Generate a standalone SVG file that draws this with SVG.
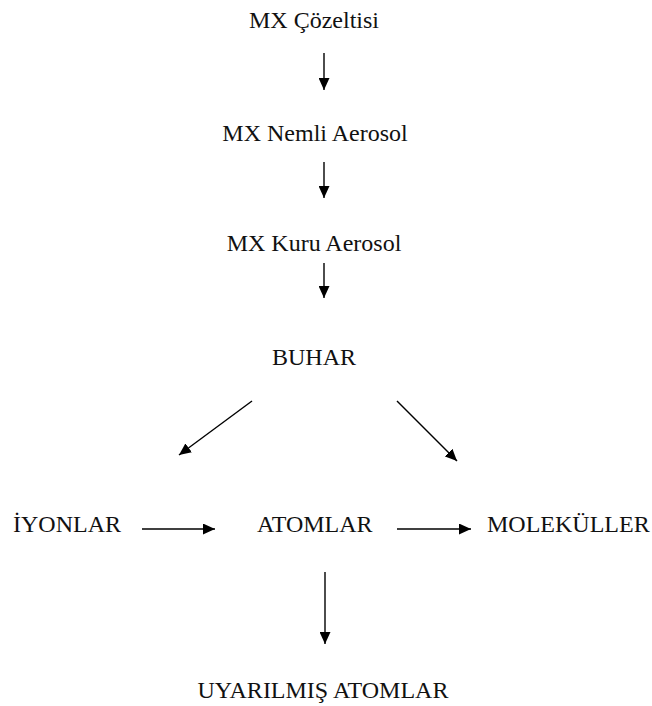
<svg xmlns="http://www.w3.org/2000/svg" width="652" height="706" viewBox="0 0 652 706">
<style>
text{font-family:"Liberation Serif","Times New Roman",serif;font-size:24px;fill:#111;}
.c{text-anchor:middle;}
.e{stroke:#000;stroke-width:1.4;fill:none;marker-end:url(#ah);}
</style>
<defs>
<marker id="ah" viewBox="0 0 12 11" refX="12" refY="5.5" markerWidth="12" markerHeight="11" markerUnits="userSpaceOnUse" orient="auto">
<path d="M0,0 L12,5.5 L0,11 Z" fill="#000"/>
</marker>
</defs>
<rect width="652" height="706" fill="#fff"/>
<g id="n1"><text class="c" x="314" y="28">MX Çözeltisi</text></g>
<g id="n2"><text class="c" x="315" y="141">MX Nemli Aerosol</text></g>
<g id="n3"><text class="c" x="314" y="251">MX Kuru Aerosol</text></g>
<g id="n4"><text class="c" x="314" y="365">BUHAR</text></g>
<g id="n5"><text x="13" y="532">İYONLAR</text></g>
<g id="n6"><text x="257" y="532">ATOMLAR</text></g>
<g id="n7"><text x="487" y="532">MOLEKÜLLER</text></g>
<g id="n8"><text class="c" x="323" y="698">UYARILMIŞ ATOMLAR</text></g>
<g id="edges">
<line class="e" x1="324" y1="53" x2="324" y2="90"/>
<line class="e" x1="324" y1="162" x2="324" y2="198"/>
<line class="e" x1="324" y1="263" x2="324" y2="298"/>
<line class="e" x1="252" y1="401" x2="179" y2="455"/>
<line class="e" x1="397" y1="401" x2="457" y2="461"/>
<line class="e" x1="142" y1="529" x2="215" y2="529"/>
<line class="e" x1="397" y1="529" x2="471" y2="529"/>
<line class="e" x1="325" y1="572" x2="325" y2="644"/>
</g>
</svg>
